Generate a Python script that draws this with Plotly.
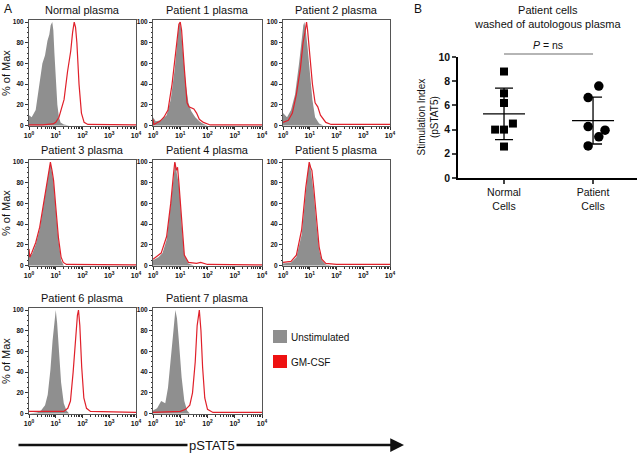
import numpy as np
import plotly.graph_objects as go

W, H = 640, 453

PANEL_TITLES = ["Normal plasma", "Patient 1 plasma", "Patient 2 plasma",
                "Patient 3 plasma", "Patient 4 plasma", "Patient 5 plasma",
                "Patient 6 plasma", "Patient 7 plasma"]

# histogram outlines: x in decades (log10 pSTAT5), y in % of Max
GRAY_LOGX = [
    [0, 0.1, 0.25, 0.37, 0.5, 0.6, 0.69, 0.76, 0.81, 0.87, 0.91, 0.95, 1.0, 1.06, 1.12, 1.18, 1.3, 1.5, 4],
    [0, 0.1, 0.3, 0.5, 0.65, 0.8, 0.92, 0.97, 1.02, 1.1, 1.2, 1.3, 1.4, 1.55, 1.7, 1.85, 2.0, 4],
    [0, 0.15, 0.3, 0.45, 0.6, 0.7, 0.76, 0.8, 0.86, 0.92, 1.0, 1.1, 1.2, 1.35, 1.5, 4],
    [0, 0.1, 0.25, 0.4, 0.55, 0.7, 0.76, 0.8, 0.86, 0.92, 1.0, 1.1, 1.2, 1.3, 4],
    [0, 0.2, 0.35, 0.5, 0.65, 0.75, 0.82, 0.88, 0.94, 0.98, 1.05, 1.15, 1.3, 1.5, 4],
    [0, 0.3, 0.5, 0.7, 0.85, 0.95, 1.0, 1.05, 1.15, 1.25, 1.35, 1.45, 1.6, 1.8, 4],
    [0, 0.3, 0.45, 0.6, 0.7, 0.8, 0.88, 0.95, 1.0, 1.05, 1.12, 1.2, 1.3, 1.4, 1.5, 4],
    [0, 0.15, 0.3, 0.45, 0.55, 0.65, 0.75, 0.82, 0.88, 0.95, 1.05, 1.15, 1.25, 1.35, 4],
]
GRAY_PCT = [
    [10, 8, 15, 37, 60, 68, 82, 88, 97, 100, 92, 70, 40, 20, 8, 3, 1, 0, 0],
    [8, 4, 5, 10, 25, 55, 90, 100, 95, 70, 40, 22, 14, 8, 4, 1.5, 0, 0],
    [12, 8, 15, 30, 60, 85, 97, 100, 90, 75, 55, 25, 8, 2, 0, 0],
    [12, 10, 20, 35, 60, 85, 95, 100, 90, 80, 55, 25, 5, 0, 0],
    [5, 8, 12, 25, 60, 85, 100, 88, 80, 70, 40, 10, 2, 0, 0],
    [2, 3, 8, 30, 70, 95, 100, 90, 70, 40, 15, 5, 1, 0, 0],
    [0, 1, 3, 8, 18, 42, 70, 92, 100, 88, 55, 30, 10, 3, 0, 0],
    [3, 5, 12, 10, 25, 50, 80, 100, 92, 70, 35, 12, 3, 0, 0],
]
RED_LOGX = [
    [0, 0.5, 0.9, 1.0, 1.12, 1.2, 1.31, 1.44, 1.56, 1.63, 1.69, 1.74, 1.79, 1.87, 1.96, 2.06, 2.2, 4],
    [0, 0.03, 0.1, 0.25, 0.4, 0.55, 0.7, 0.85, 0.95, 1.0, 1.05, 1.15, 1.25, 1.32, 1.42, 1.5, 1.6, 1.7, 1.85, 2.1, 4],
    [0, 0.2, 0.35, 0.5, 0.65, 0.75, 0.82, 0.88, 0.92, 1.0, 1.1, 1.2, 1.3, 1.4, 1.6, 1.8, 4],
    [0, 0.03, 0.1, 0.25, 0.4, 0.55, 0.7, 0.76, 0.8, 0.86, 0.92, 1.0, 1.1, 1.2, 1.28, 1.4, 4],
    [0, 0.3, 0.5, 0.65, 0.75, 0.8, 0.86, 0.9, 0.95, 1.05, 1.15, 1.3, 1.6, 1.75, 2.0, 4],
    [0, 0.3, 0.5, 0.7, 0.85, 0.95, 0.98, 1.03, 1.08, 1.15, 1.25, 1.35, 1.45, 1.6, 2.0, 4],
    [0, 0.5, 1.0, 1.3, 1.45, 1.55, 1.65, 1.75, 1.81, 1.85, 1.9, 1.97, 2.05, 2.15, 2.3, 4],
    [0, 0.5, 1.0, 1.2, 1.35, 1.45, 1.55, 1.62, 1.7, 1.76, 1.82, 1.9, 2.0, 2.2, 4],
]
RED_PCT = [
    [0.5, 0.5, 1.5, 3, 8, 15, 25, 52, 72, 90, 100, 95, 80, 40, 12, 3, 1, 0.5],
    [6, 1, 2, 4, 8, 15, 40, 78, 98, 100, 92, 55, 22, 18, 17, 16, 12, 6, 3, 0.5, 0.5],
    [3, 5, 12, 30, 55, 80, 90, 100, 92, 70, 40, 22, 18, 10, 3, 1, 1],
    [16, 8, 12, 22, 37, 62, 87, 96, 100, 92, 82, 57, 27, 8, 3, 1, 0.5],
    [6, 12, 28, 60, 88, 100, 92, 95, 80, 45, 10, 3, 2, 3, 1, 0.5],
    [3, 4, 10, 35, 75, 97, 100, 95, 92, 75, 45, 18, 6, 2, 1, 1],
    [2, 2, 2, 2, 5, 12, 40, 80, 95, 100, 85, 45, 15, 5, 2, 1],
    [1, 1.5, 2, 4, 8, 20, 50, 85, 100, 80, 45, 15, 4, 1, 1],
]

# panel B: stimulation index (pSTAT5)
GROUPS = ["Normal<br>Cells", "Patient<br>Cells"]
NORMAL_SI = [8.8, 7.0, 6.2, 4.0, 4.0, 4.5, 2.6]
PATIENT_SI = [7.6, 6.65, 4.25, 3.95, 3.4, 2.65]
NORMAL_JITTER = [0, 0, 0, -0.1, 0, 0.1, 0]
PATIENT_JITTER = [0.065, -0.055, -0.055, 0.135, 0.065, -0.055]

GRAY = "#8f8f8f"
RED = "#e0202a"
FONT = "Liberation Sans, Arial, sans-serif"

COLS = [(29, 136), (153, 262), (283, 390)]
ROWS = [(20, 126), (160, 266), (308, 414)]


def fx(p):
    return p / W


def fy(p):
    return 1 - p / H


def label(text, x, y, size, xanchor="center", **kw):
    return dict(text=text, x=fx(x), y=fy(y), xref="paper", yref="paper",
                xanchor=xanchor, yanchor="middle", showarrow=False,
                font=dict(size=size, family=FONT, color="#111"), **kw)


fig = go.Figure()
layout = {}
annotations = []
shapes = []

minor_vals = [m * 10 ** k for k in range(4) for m in range(2, 10)]

for i, title in enumerate(PANEL_TITLES):
    r, c = divmod(i, 3)
    x0, x1 = COLS[c]
    y0, y1 = ROWS[r]
    sfx = "" if i == 0 else str(i + 1)
    fig.add_trace(go.Scatter(
        x=[10 ** v for v in GRAY_LOGX[i]], y=GRAY_PCT[i], mode="lines",
        line=dict(color=GRAY, width=0), fill="tozeroy", fillcolor=GRAY,
        xaxis="x" + sfx, yaxis="y" + sfx, showlegend=False, hoverinfo="skip",
    ))
    fig.add_trace(go.Scatter(
        x=[10 ** v for v in RED_LOGX[i]], y=RED_PCT[i], mode="lines",
        line=dict(color=RED, width=1.2),
        xaxis="x" + sfx, yaxis="y" + sfx, showlegend=False, hoverinfo="skip",
    ))
    layout["xaxis" + sfx] = dict(
        domain=[fx(x0), fx(x1)], anchor="y" + sfx, type="log", range=[0, 4],
        automargin=False,
        showline=True, mirror=True, linecolor="#555", linewidth=1,
        showgrid=False, zeroline=False, ticks="outside", ticklen=3, tickcolor="#333",
        tickvals=[1, 10, 100, 1000, 10000],
        ticktext=["10<sup>0</sup>", "10<sup>1</sup>", "10<sup>2</sup>", "10<sup>3</sup>", "10<sup>4</sup>"],
        tickfont=dict(size=7, family=FONT, color="#111", weight="bold"),
        minor=dict(ticks="outside", ticklen=1.5, tickvals=minor_vals, tickcolor="#333"),
    )
    layout["yaxis" + sfx] = dict(
        domain=[fy(y1), fy(y0)], anchor="x" + sfx, range=[-0.5, 102],
        automargin=False,
        showline=True, mirror=True, linecolor="#555", linewidth=1,
        showgrid=False, zeroline=False, ticks="outside", ticklen=3, tickcolor="#333",
        tickvals=[0, 20, 40, 60, 80, 100],
        tickfont=dict(size=6.5, family=FONT, color="#111", weight="bold"),
        minor=dict(ticks="outside", ticklen=1.5, dtick=5, tickcolor="#333"),
    )
    annotations.append(label(title, (x0 + x1) / 2, y0 - 10, 11))

for (y0, y1) in ROWS:
    annotations.append(label("% of Max", 6, (y0 + y1) / 2, 11, textangle=-90))

# legend squares
shapes.append(dict(type="rect", xref="paper", yref="paper", x0=fx(273), x1=fx(287),
                   y0=fy(343), y1=fy(330), fillcolor=GRAY, line=dict(width=0)))
shapes.append(dict(type="rect", xref="paper", yref="paper", x0=fx(273), x1=fx(287),
                   y0=fy(368), y1=fy(355), fillcolor="#ee1111", line=dict(width=0)))
annotations.append(label("Unstimulated", 289, 337, 10, xanchor="left"))
annotations.append(label("GM-CSF", 289, 362, 10, xanchor="left"))

# pSTAT5 arrow
annotations.append(dict(
    text="", x=fx(404), y=fy(445), xref="paper", yref="paper",
    ax=-(404 - 17), ay=0, showarrow=True, arrowhead=2, arrowsize=1.1,
    arrowwidth=2.5, arrowcolor="#111",
))
annotations.append(label("pSTAT5", 212, 445, 13, bgcolor="white", borderpad=1))

# panel letters
annotations.append(label("A", 2, 9, 12, xanchor="left"))
annotations.append(label("B", 412, 9, 12, xanchor="left"))

# ── Panel B ──────────────────────────────────────────────────────────────────
fig.add_trace(go.Scatter(
    x=[0 + j for j in NORMAL_JITTER], y=NORMAL_SI, mode="markers",
    marker=dict(symbol="square", size=8, color="black"),
    xaxis="x9", yaxis="y9", showlegend=False,
))
fig.add_trace(go.Scatter(
    x=[1 + j for j in PATIENT_JITTER], y=PATIENT_SI, mode="markers",
    marker=dict(symbol="circle", size=9.5, color="black"),
    xaxis="x9", yaxis="y9", showlegend=False,
))
for k, vals in enumerate([NORMAL_SI, PATIENT_SI]):
    m, sd = np.mean(vals), np.std(vals, ddof=1)
    fig.add_trace(go.Scatter(
        x=[k], y=[m], mode="markers",
        marker=dict(symbol="line-ew-open", size=30, color="black",
                    line=dict(color="black", width=1.3)),
        error_y=dict(type="data", array=[sd], thickness=1.3, width=9, color="black"),
        xaxis="x9", yaxis="y9", showlegend=False,
    ))

layout["xaxis9"] = dict(
    domain=[fx(458), fx(637)], anchor="y9", range=[-0.517, 1.494], automargin=False,
    showline=True, linecolor="black", linewidth=1.5, showgrid=False, zeroline=False,
    tickvals=[0, 1], ticktext=GROUPS, ticks="outside", ticklen=4, tickwidth=1.5,
    tickfont=dict(size=10.5, family=FONT, color="#111"),
)
layout["yaxis9"] = dict(
    domain=[fy(178), fy(57)], anchor="x9", range=[0, 10], automargin=False,
    showline=True, linecolor="black", linewidth=1.5, showgrid=False, zeroline=False,
    tickvals=[0, 2, 4, 6, 8, 10], ticks="outside", ticklen=4, tickwidth=1.5,
    tickfont=dict(size=10.5, family=FONT, color="#111", weight="bold"),
)
annotations.append(label("Stimulation Index<br>(pSTAT5)", 427, 117.5, 10, textangle=-90))

shapes.append(dict(type="line", xref="x9", yref="paper", x0=0, x1=1,
                   y0=fy(54), y1=fy(54), line=dict(color="#b5b5b5", width=2)))
annotations.append(label("<i>P</i> = ns", 548, 45, 10.5))
annotations.append(label("Patient cells<br>washed of autologous plasma", 547, 17, 11))

fig.update_layout(
    **layout,
    template="none",
    width=W, height=H,
    margin=dict(l=0, r=0, t=0, b=0),
    paper_bgcolor="white", plot_bgcolor="white",
    annotations=annotations, shapes=shapes,
    showlegend=False,
)

# drop the page's default body margin so the figure fills the window
fig.write_html("out.html", config={"displayModeBar": False},
               post_script="document.body.style.margin = '0';")
